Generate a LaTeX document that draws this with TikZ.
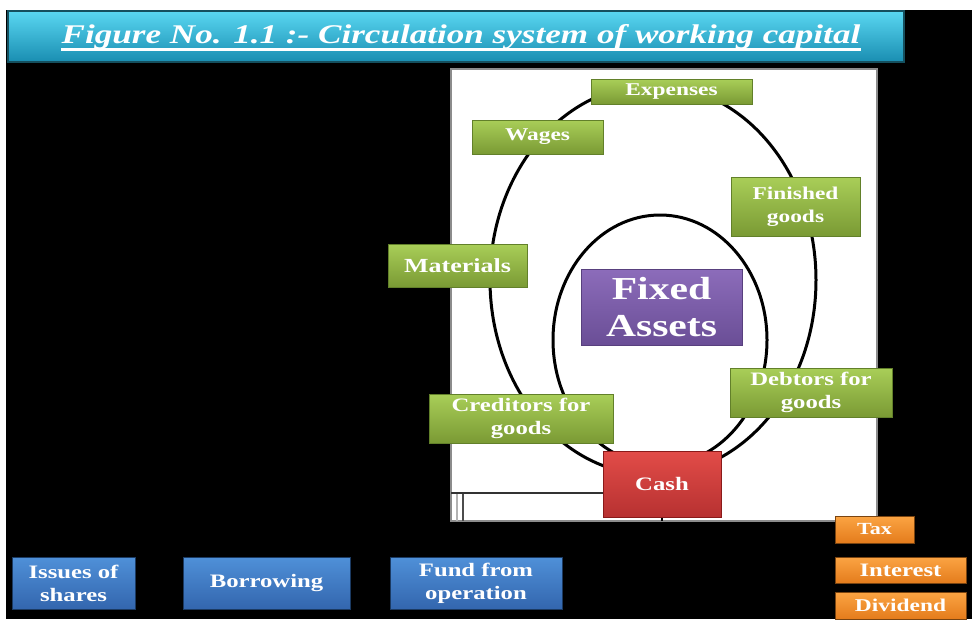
\documentclass[tikz,border=0pt]{standalone}
\usepackage{fontspec}
\setmainfont{Liberation Serif}[FakeStretch=1.3]
\usepackage{tikz}
\usetikzlibrary{positioning}

\definecolor{gtop}{HTML}{A9CE58}
\definecolor{gbot}{HTML}{7A9A34}
\definecolor{gedge}{HTML}{62802A}
\definecolor{btop}{HTML}{4F90D8}
\definecolor{bbot}{HTML}{3366AE}
\definecolor{bedge}{HTML}{1B3A62}
\definecolor{otop}{HTML}{FBA443}
\definecolor{obot}{HTML}{E47C1C}
\definecolor{oedge}{HTML}{7A4410}
\definecolor{rtop}{HTML}{E24C48}
\definecolor{rbot}{HTML}{B73131}
\definecolor{redge}{HTML}{8A1A1A}
\definecolor{ptop}{HTML}{8C6CBA}
\definecolor{pbot}{HTML}{6A4E96}
\definecolor{pedge}{HTML}{58407E}
\definecolor{ttop}{HTML}{5AD8F2}
\definecolor{tbot}{HTML}{1A8EB2}
\definecolor{tedge}{HTML}{15505F}

\begin{document}
\begin{tikzpicture}[x=1pt,y=-1pt]
\tikzstyle{base} = [rectangle, inner sep=0pt, text=white, align=center, line width=1pt]
\tikzstyle{current} = [base, top color=gtop, bottom color=gbot, draw=gedge, font=\fontsize{19}{23}\selectfont\bfseries]
\tikzstyle{fixed} = [base, top color=ptop, bottom color=pbot, draw=pedge, font=\fontsize{32}{37}\selectfont\bfseries]
\tikzstyle{cashbox} = [base, top color=rtop, bottom color=rbot, draw=redge, font=\fontsize{19}{23}\selectfont\bfseries]
\tikzstyle{source} = [base, top color=btop, bottom color=bbot, draw=bedge, minimum height=52pt, font=\fontsize{19}{23}\selectfont\bfseries]
\tikzstyle{outflow} = [base, top color=otop, bottom color=obot, draw=oedge, font=\fontsize{19}{23}\selectfont\bfseries]
\tikzstyle{titlebar} = [base, top color=ttop, bottom color=tbot, draw=tedge, line width=2pt]
\tikzstyle{cycle} = [line width=3pt, black]

\useasboundingbox (0,0) rectangle (972,619);
\fill[white] (0,0) rectangle (972,619);
\fill[black] (6,10) rectangle (972,619);

%title
\node (title) [titlebar, minimum width=896pt, minimum height=51pt] at (456,36) {};
\node (caption) [base, font=\fontsize{27}{30}\selectfont\bfseries\itshape] at (461,37) {Figure No. 1.1 :- Circulation system of working capital};
\draw [white, line width=3pt] ([yshift=-6pt]caption.base west) -- ([yshift=-6pt]caption.base east);

%panel
\draw [fill=white, draw=gray!90, line width=2pt] (451,69) rectangle (877,521);
\draw [gray!60, line width=1.5pt] (457,493) -- (457,521);
\draw [black!70, line width=2pt] (463,493) -- (463,521);

%cycles
\draw [cycle] (653,280) ellipse [x radius=163pt, y radius=195pt];
\draw [cycle] (660,340) ellipse [x radius=107pt, y radius=125pt];

%nodes
\node (expenses) [current, minimum width=161pt, minimum height=25pt, font=\fontsize{18}{22}\selectfont\bfseries] at (671.5,91.5) {Expenses};
\node (wages) [current, minimum width=131pt, minimum height=34pt, font=\fontsize{18}{22}\selectfont\bfseries] at (537.5,137) {Wages};
\node (finished) [current, minimum width=129pt, minimum height=59pt, font=\fontsize{18}{23}\selectfont\bfseries] at (795.5,206.5) {Finished\\goods};
\node (materials) [current, minimum width=139pt, minimum height=43pt, font=\fontsize{20}{23}\selectfont\bfseries] at (457.5,265.5) {Materials};
\node (fixed) [fixed, minimum width=161pt, minimum height=76pt] at (661.5,307) {Fixed\\Assets};
\node (creditors) [current, minimum width=184pt, minimum height=49pt] at (521,418.5) {Creditors for\\goods};
\node (debtors) [current, minimum width=162pt, minimum height=49pt] at (811,392.5) {Debtors for\\goods};
\node (cash) [cashbox, minimum width=118pt, minimum height=66pt] at (662,484) {Cash};
\coordinate (edge) at (662,521);

\node (issues) [source, minimum width=123pt] at (73.5,583) {Issues of\\shares};
\node (borrowing) [source, minimum width=167pt] at (266.5,583) {Borrowing};
\node (fund) [source, minimum width=172pt] at (476,583) {Fund from\\operation};

\node (tax) [outflow, minimum width=79pt, minimum height=27pt, font=\fontsize{17}{20}\selectfont\bfseries] at (874.5,529.5) {Tax};
\node (interest) [outflow, minimum width=131pt, minimum height=26pt] at (900.5,570) {Interest};
\node (dividend) [outflow, minimum width=131pt, minimum height=27pt, font=\fontsize{18}{20}\selectfont\bfseries] at (900.5,605.5) {Dividend};

%lines
\draw [black!80, line width=2pt] (451,493) -- (cash.west |- 0,493);
\draw [line width=2pt] (cash) -- (edge);
\end{tikzpicture}
\end{document}
